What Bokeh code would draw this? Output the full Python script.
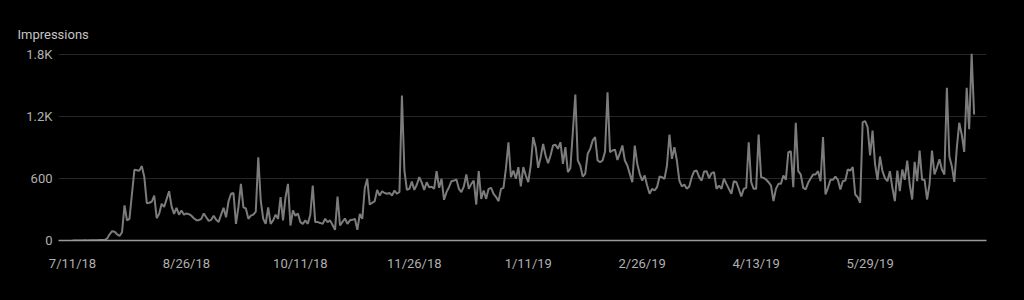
import pandas as pd
from bokeh.plotting import figure
from bokeh.models import Range1d, FixedTicker, DatetimeAxis
from bokeh.embed import file_html
from bokeh.resources import INLINE

start_date = "2018-07-11"

impressions = [
    0, 0, 1, 0, 1, 2, 1, 2, 3, 2,
    3, 4, 4, 5, 20, 60, 90, 85, 60, 45,
    80, 340, 195, 210, 450, 684, 680, 676, 720, 613,
    361, 365, 375, 435, 216, 258, 355, 325, 400, 477,
    330, 258, 316, 250, 290, 250, 262, 255, 240, 215,
    197, 197, 210, 262, 225, 190, 200, 240, 200, 180,
    250, 316, 225, 380, 452, 460, 161, 325, 548, 320,
    310, 210, 240, 250, 280, 806, 387, 210, 161, 320,
    161, 195, 250, 210, 419, 195, 419, 548, 145, 290,
    240, 262, 178, 161, 195, 161, 250, 532, 178, 178,
    170, 161, 210, 178, 195, 150, 103, 425, 145, 180,
    213, 161, 195, 200, 210, 103, 258, 210, 506, 597,
    348, 365, 380, 490, 435, 477, 460, 452, 460, 435,
    484, 452, 470, 1403, 677, 490, 500, 570, 490, 540,
    613, 560, 490, 564, 516, 520, 500, 671, 510, 597,
    394, 468, 516, 574, 580, 590, 500, 468, 523, 639,
    500, 548, 580, 348, 671, 403, 484, 403, 500, 510,
    452, 420, 381, 500, 510, 700, 951, 613, 677, 597,
    710, 523, 710, 629, 564, 726, 1000, 903, 703, 806,
    935, 823, 748, 823, 919, 926, 887, 951, 742, 903,
    661, 700, 1050, 1413, 774, 726, 619, 645, 839, 887,
    968, 1000, 774, 758, 774, 860, 1435, 855, 871, 880,
    780, 845, 919, 774, 726, 645, 564, 919, 742, 645,
    580, 629, 532, 452, 500, 484, 516, 619, 613, 597,
    726, 1026, 790, 903, 774, 580, 523, 542, 500, 523,
    613, 671, 677, 613, 580, 668, 671, 603, 652, 661,
    500, 532, 500, 597, 548, 500, 452, 574, 564, 500,
    426, 500, 510, 951, 564, 500, 500, 1026, 613, 606,
    590, 564, 532, 381, 500, 548, 548, 629, 587, 855,
    864, 516, 1139, 671, 639, 510, 494, 558, 600, 639,
    639, 671, 574, 1000, 445, 510, 587, 587, 619, 587,
    494, 574, 581, 687, 677, 710, 445, 419, 365, 1145,
    1155, 1097, 823, 1064, 742, 587, 813, 671, 603, 574,
    671, 510, 381, 677, 477, 687, 587, 774, 542, 397,
    761, 574, 871, 587, 587, 397, 542, 871, 639, 706,
    787, 687, 639, 1477, 813, 719, 568, 892, 1139, 1026,
    858, 1477, 1077, 1806, 1219,
]

x_tick_labels = ["7/11/18", "8/26/18", "10/11/18", "11/26/18",
                 "1/11/19", "2/26/19", "4/13/19", "5/29/19"]
y_ticks = [0, 600, 1200, 1800]
y_tick_labels = ["0", "600", "1.2K", "1.8K"]

dates = pd.date_range(start_date, periods=len(impressions), freq="D")
x_tick_dates = pd.to_datetime(x_tick_labels, format="%m/%d/%y")

def to_ms(ts):
    return float(pd.Timestamp(ts).value // 10**6)

x_ticks_ms = [to_ms(d) for d in x_tick_dates]

t0 = pd.Timestamp(start_date)
x_start = t0 - pd.Timedelta(days=5.65)
x_end = t0 + pd.Timedelta(days=369.0)

p = figure(width=1024, height=300, output_backend="svg", toolbar_location=None,
           tools="", x_axis_type=None, y_axis_type="linear",
           x_range=Range1d(x_start, x_end), y_range=Range1d(0, 1838.7),
           min_border_left=58, min_border_right=38, min_border_top=50,
           min_border_bottom=60, background_fill_color="#000000",
           border_fill_color="#000000",
           title="Impressions")
p.outline_line_color = None
p.styles = {"background-color": "#000000"}

p.title.text_font = "Roboto"
p.title.text_font_size = "13px"
p.title.text_font_style = "normal"
p.title.text_color = "#c4c4c4"
p.title.align = "left"
p.title.offset = -41
p.title.standoff = 17

xaxis = DatetimeAxis()
p.add_layout(xaxis, "below")
xaxis.ticker = FixedTicker(ticks=x_ticks_ms)
xaxis.major_label_overrides = {t: lab for t, lab in zip(x_ticks_ms, x_tick_labels)}
xaxis.axis_line_color = "#9a9a9a"
xaxis.axis_line_width = 1.5
xaxis.major_tick_line_color = None
xaxis.minor_tick_line_color = None
xaxis.major_tick_out = 0
xaxis.major_tick_in = 0
xaxis.major_label_standoff = 15
xaxis.major_label_text_font = "Roboto"
xaxis.major_label_text_font_size = "13px"
xaxis.major_label_text_color = "#b0b0b0"

yaxis = p.yaxis[0]
yaxis.ticker = FixedTicker(ticks=y_ticks)
yaxis.major_label_overrides = {t: lab for t, lab in zip(y_ticks, y_tick_labels)}
yaxis.axis_line_color = None
yaxis.major_tick_line_color = None
yaxis.minor_tick_line_color = None
yaxis.major_tick_out = 0
yaxis.major_label_standoff = 6
yaxis.major_label_text_font = "Roboto"
yaxis.major_label_text_font_size = "13px"
yaxis.major_label_text_color = "#b0b0b0"

p.xgrid.visible = False
p.ygrid.grid_line_color = "#262626"
p.ygrid.grid_line_width = 1
p.ygrid.ticker = FixedTicker(ticks=y_ticks[1:])

p.line(dates, impressions, line_color="#7c7c7c", line_width=2)

html = file_html(p, INLINE)
html = html.replace("<body>", '<body style="background-color:#000000;margin:0">', 1)
open("out.html", "w").write(html)
